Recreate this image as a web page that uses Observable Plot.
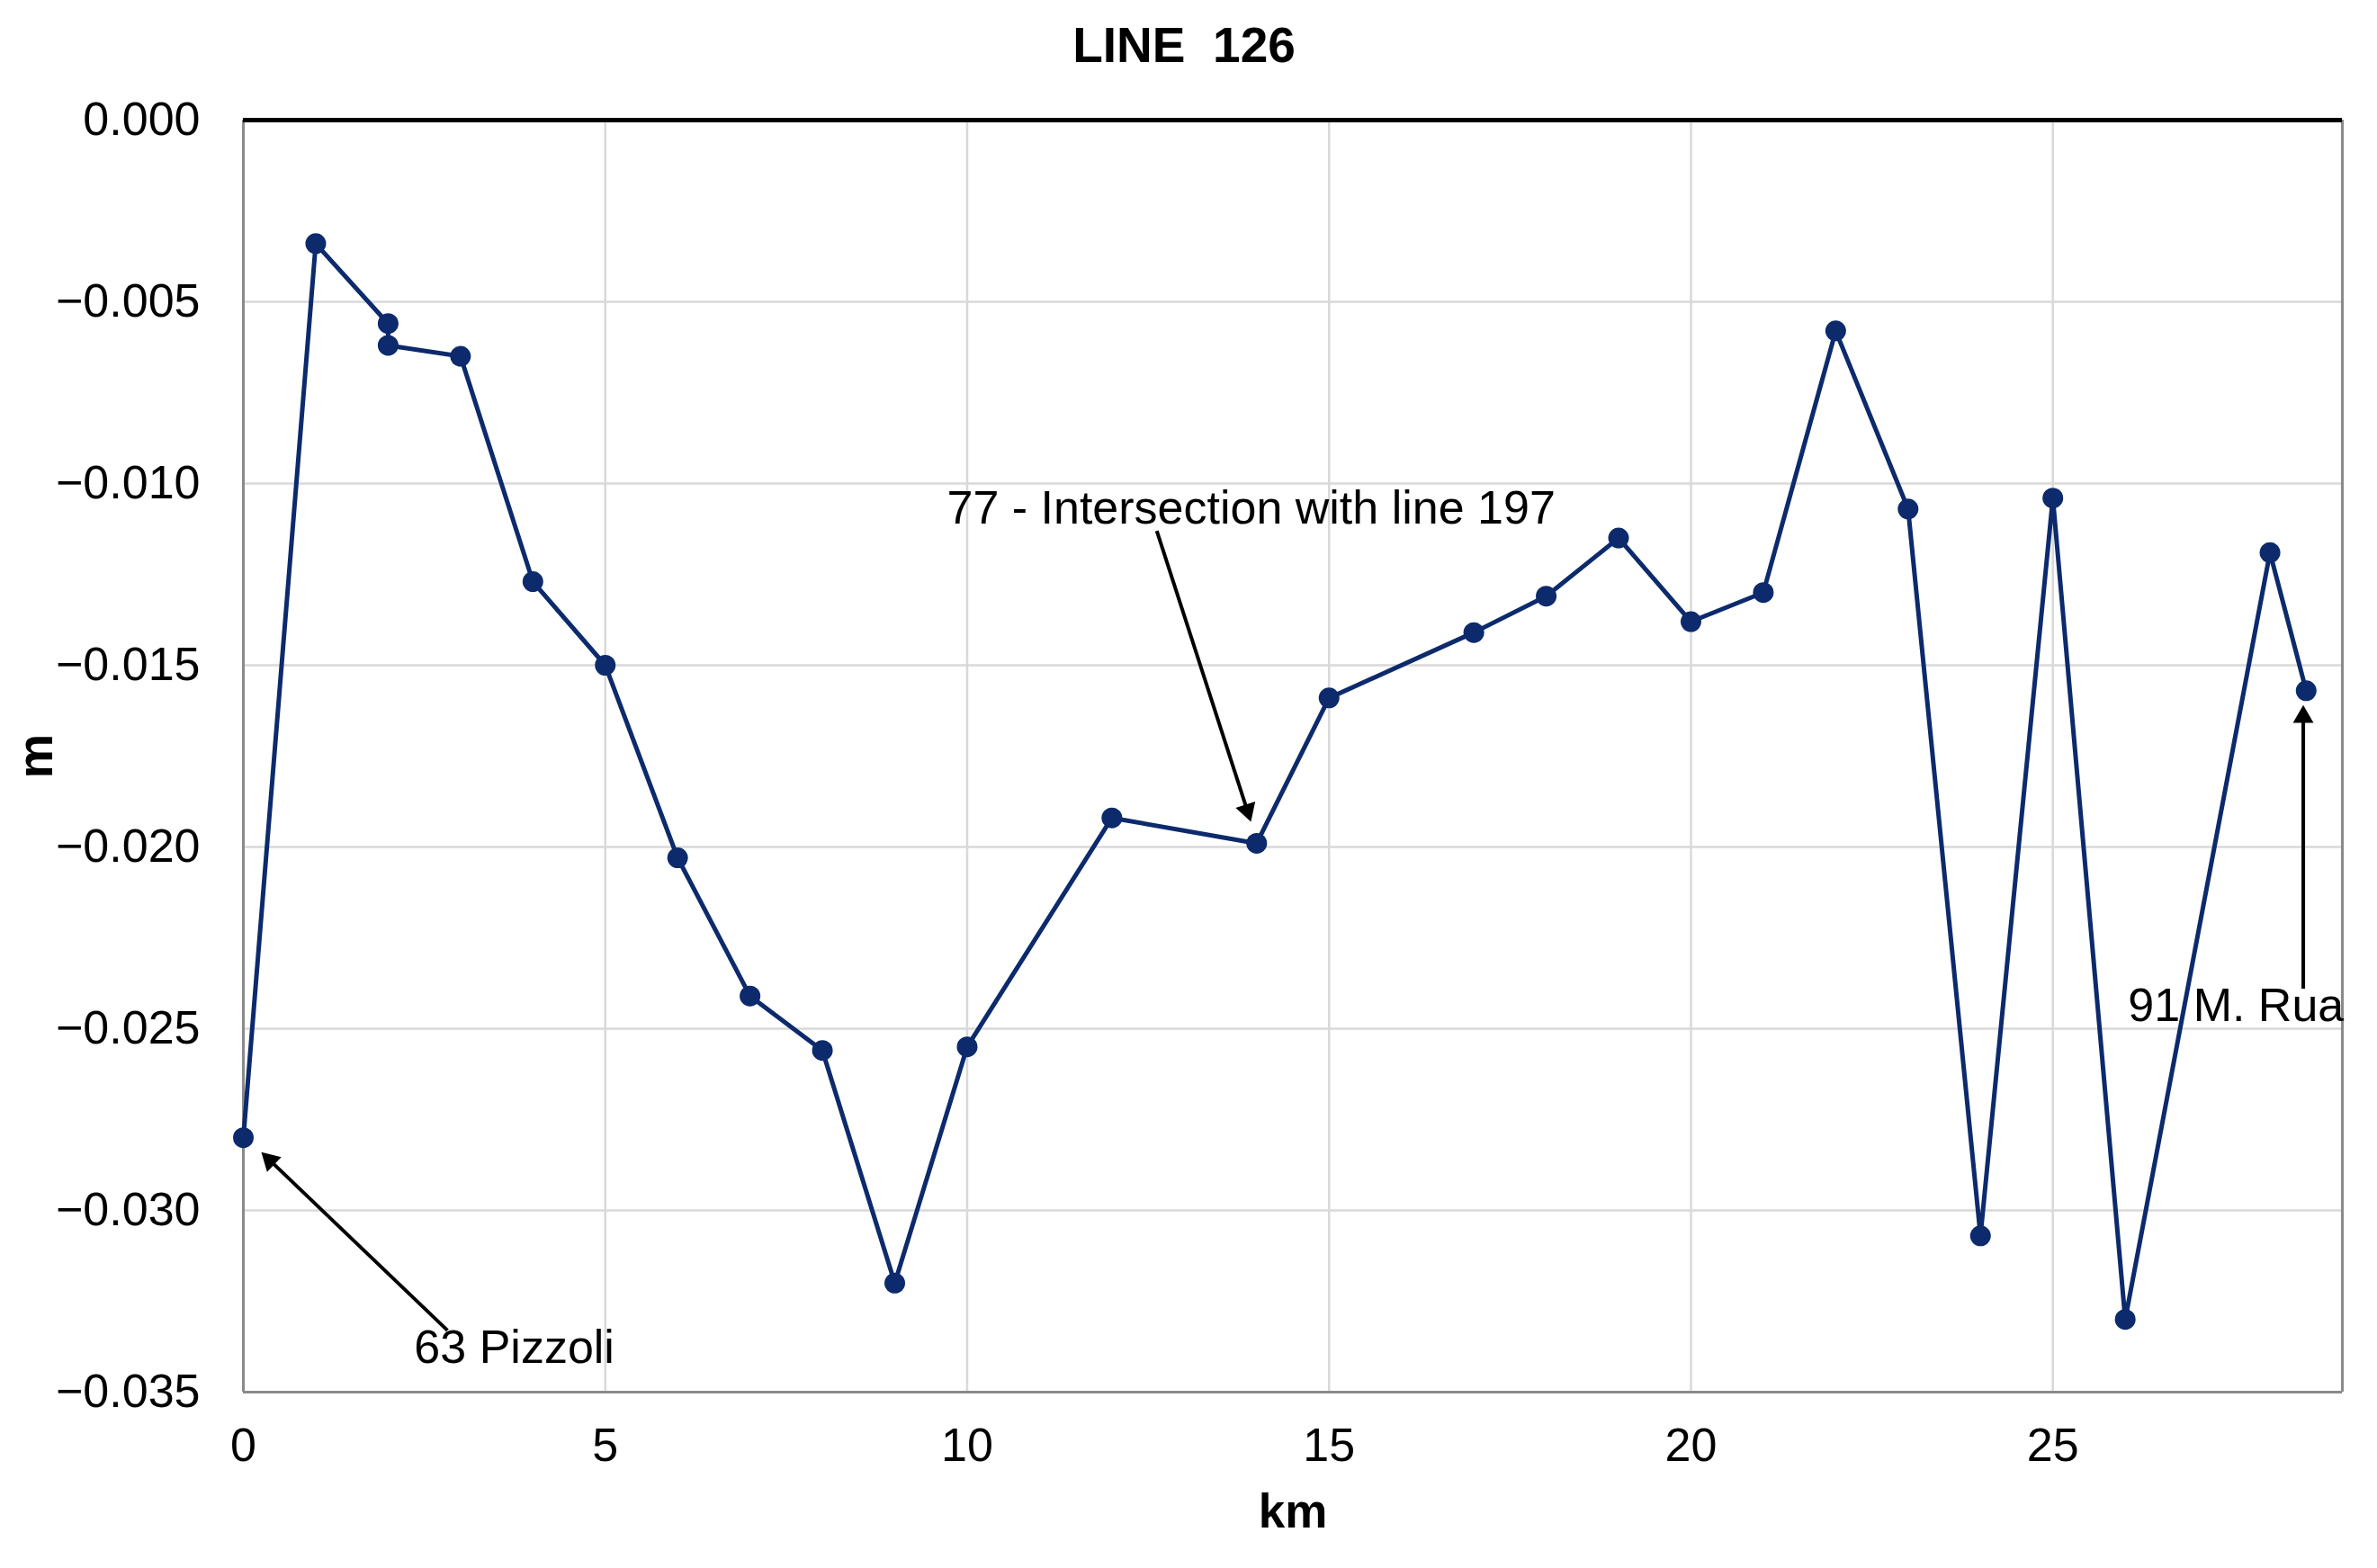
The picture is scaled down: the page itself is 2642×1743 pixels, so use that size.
<!DOCTYPE html>
<html><head><meta charset="utf-8">
<script src="https://cdn.jsdelivr.net/npm/d3@7"></script>
<script src="https://cdn.jsdelivr.net/npm/@observablehq/plot@0.6"></script>
<style>
html,body{margin:0;padding:0;background:#fff;}
svg text{white-space:pre;}
</style></head><body><div id="chart"></div>
<script>
// ---- data ----
const km   = [0, 1, 2, 2, 3, 4, 5, 6, 7, 8, 9, 10, 12, 14, 15, 17, 18, 19, 20, 21, 22, 23, 24, 25, 26, 28, 28.5];
const disp = [-0.0280, -0.0034, -0.0056, -0.0062, -0.0065, -0.0127, -0.0150, -0.0203, -0.0241, -0.0256, -0.0320, -0.0255,
              -0.0192, -0.0199, -0.0159, -0.0141, -0.0131, -0.0115, -0.0138, -0.0130, -0.0058, -0.0107, -0.0307, -0.0104,
              -0.0330, -0.0119, -0.0157];
const xTicks = [0, 5, 10, 15, 20, 25];
const xGrid = [5, 10, 15, 20, 25];
const yTicks = [0, -0.005, -0.010, -0.015, -0.020, -0.025, -0.030, -0.035];
const yGrid = [-0.005, -0.010, -0.015, -0.020, -0.025, -0.030];
const title = "LINE  126";
const xLabel = "km";
const yLabel = "m";
const noteText = ["63 Pizzoli", "77 - Intersection with line 197", "91 M. Rua"];
const noteX = [2.36, 9.72, 26.04];
const noteY = [-0.0342, -0.0111, -0.0248];
const arrowX1 = [2.82, 12.62, 28.46];
const arrowY1 = [-0.0333, -0.0113, -0.0239];
const arrowX2 = [0.25, 13.92, 28.46];
const arrowY2 = [-0.0284, -0.0193, -0.0161];

const points = km.map((k, i) => ({km: k, m: disp[i]}));
const notes = noteText.map((t, i) => ({t, x: noteX[i], y: noteY[i]}));

const navy = "#0c2a6c";
const font = "'Liberation Sans', Arial, sans-serif";

const base = {
  width: 2642,
  height: 1743,
  marginLeft: 270,
  marginRight: 39,
  marginTop: 133,
  marginBottom: 196,
  style: {fontFamily: font, background: "#fff", color: "#000"},
  x: {domain: [0, 29], axis: null},
  y: {domain: [-0.035, 0], axis: null}
};

// probe the library's scales to orient the filled arrowheads in screen space
const probe = Plot.plot({...base, marks: [Plot.ruleY([0])]});
const sx = probe.scale("x").apply, sy = probe.scale("y").apply;
const kx = sx(1) - sx(0), ky = sy(1) - sy(0);
const headBack = 13;
const arrows = arrowX1.map((x1, i) => {
  const x2 = arrowX2[i], y1 = arrowY1[i], y2 = arrowY2[i];
  const dxp = sx(x2) - sx(x1), dyp = sy(y2) - sy(y1);
  const len = Math.hypot(dxp, dyp);
  const ux = dxp / len, uy = dyp / len;
  const cx = x2 - ux * headBack / kx, cy = y2 - uy * headBack / ky;
  return {x1, y1, cx, cy, rot: Math.atan2(ux, -uy) * 180 / Math.PI};
});

const chart = Plot.plot({
  ...base,
  marks: [
    Plot.gridX(xGrid, {stroke: "#d9d9d9", strokeOpacity: 1, strokeWidth: 2.5}),
    Plot.gridY(yGrid, {stroke: "#d9d9d9", strokeOpacity: 1, strokeWidth: 2.5}),
    Plot.ruleX([0, 29], {stroke: "#8a8a8a", strokeWidth: 3}),
    Plot.ruleY([-0.035], {stroke: "#8a8a8a", strokeWidth: 3}),
    Plot.ruleY([0], {stroke: "#000", strokeWidth: 5}),
    Plot.axisY({ticks: yTicks, tickSize: 0, tickPadding: 48, tickFormat: d3.format(".3f"), fontSize: 52, label: null, stroke: null}),
    Plot.axisX({ticks: xTicks, tickSize: 0, tickPadding: 40, tickFormat: d3.format("d"), fontSize: 52, label: null, stroke: null}),
    Plot.link(arrows, {x1: "x1", y1: "y1", x2: "cx", y2: "cy", stroke: "#000", strokeWidth: 4}),
    Plot.dot(arrows, {x: "cx", y: "cy", symbol: "triangle", r: 8.5, rotate: "rot", fill: "#000", stroke: null}),
    Plot.line(points, {x: "km", y: "m", stroke: navy, strokeWidth: 5}),
    Plot.dot(points, {x: "km", y: "m", r: 11.5, fill: navy, stroke: null}),
    Plot.text(notes, {x: "x", y: "y", text: "t", textAnchor: "start", lineAnchor: "bottom", fontSize: 52, fill: "#000"}),
    Plot.text([title], {text: d => d, frameAnchor: "top", dx: -121, dy: -65, lineAnchor: "bottom", textAnchor: "middle", fontSize: 55, fontWeight: "bold", fill: "#000"}),
    Plot.text([xLabel], {text: d => d, frameAnchor: "bottom", dy: 150, lineAnchor: "bottom", textAnchor: "middle", fontSize: 53, fontWeight: "bold", fill: "#000"}),
    Plot.text([yLabel], {text: d => d, frameAnchor: "left", dx: -213, rotate: -90, lineAnchor: "bottom", textAnchor: "middle", fontSize: 56, fontWeight: "bold", fill: "#000"})
  ]
});
document.getElementById("chart").appendChild(chart);
</script>
</body></html>
